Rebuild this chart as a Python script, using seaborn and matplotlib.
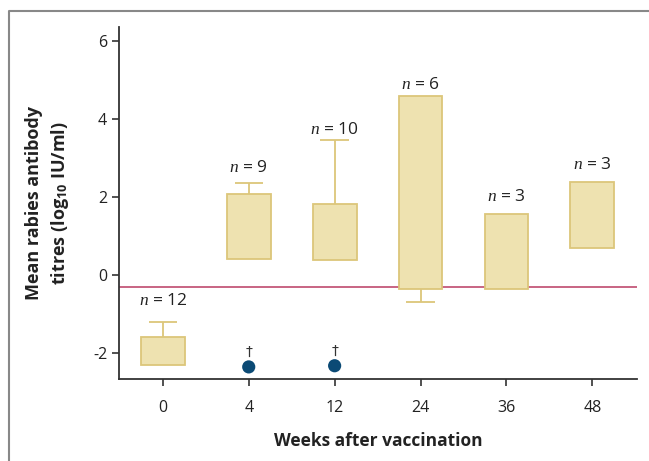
import numpy as np
import pandas as pd
import matplotlib.pyplot as plt
from matplotlib.lines import Line2D
import seaborn as sns

# data
weeks = ['0', '4', '12', '24', '36', '48']
bar_low = [-2.31, 0.41, 0.38, -0.36, -0.36, 0.69]
bar_high = [-1.59, 2.08, 1.82, 4.59, 1.56, 2.38]
whisk_end = [-1.21, 2.36, 3.46, -0.69, np.nan, np.nan]
n_labels = ['12', '9', '10', '6', '3', '3']
n_pos = [-0.67, 2.74, 3.72, 4.87, 2.0, 2.82]
dot_weeks = ['4', '12']
dot_vals = [-2.36, -2.33]
cutoff = -0.31

sns.set_style('ticks')
plt.rcParams['font.family'] = ['Open Sans', 'DejaVu Sans']
plt.rcParams['mathtext.fontset'] = 'custom'
plt.rcParams['mathtext.rm'] = 'Open Sans:bold'
plt.rcParams['mathtext.it'] = 'Liberation Serif:italic'
plt.rcParams['axes.unicode_minus'] = False

df = pd.DataFrame({'week': weeks, 'low': bar_low, 'high': bar_high})
df['span'] = df['high'] - df['low']

fig = plt.figure(figsize=(6.49, 4.61), dpi=100)
ax = fig.add_axes([0.1834, 0.1779, 0.7981, 0.7635])

sns.barplot(x='week', y='span', data=df, bottom=df['low'].values, width=0.51,
            color='#EEE2B0', saturation=1, edgecolor='#DCC67A', linewidth=1.3, ax=ax, zorder=2)

# one-sided whiskers
for i, w in enumerate(whisk_end):
    if np.isnan(w):
        continue
    start = bar_high[i] if w > bar_high[i] else bar_low[i]
    ax.vlines(i, start, w, color='#DCC67A', lw=1.3, zorder=1)
    ax.hlines(w, i - 0.165, i + 0.165, color='#DCC67A', lw=1.3, zorder=1)

ax.axhline(cutoff, color='#C4587A', lw=1.3, zorder=1)

xs = [weeks.index(w) for w in dot_weeks]
sns.scatterplot(x=xs, y=dot_vals, s=90, color='#0B4A75', edgecolor='none', ax=ax, zorder=3)
for x, v in zip(xs, dot_vals):
    ax.text(x, v + 0.2, '\u2020', ha='center', va='bottom', fontsize=10,
            family='DejaVu Sans', color='#333333')

for i, (lab, y) in enumerate(zip(n_labels, n_pos)):
    ax.text(i, y, '$n$ = ' + lab, ha='center', va='center', fontsize=12.5, color='#222222')

ax.set_xlim(-0.51, 5.52)
ax.set_ylim(-2.67, 6.36)
ax.set_yticks([-2, 0, 2, 4, 6])
sns.despine(ax=ax)
for s in ['left', 'bottom']:
    ax.spines[s].set_color('#333333')
    ax.spines[s].set_linewidth(1.3)
ax.tick_params(colors='#333333', labelsize=11.5, length=5, width=1.2, labelcolor='#222222')
ax.tick_params(axis='x', pad=10)

ax.set_xlabel('Weeks after vaccination', fontsize=12.5, fontweight='bold', color='#222222', labelpad=12)
ax.set_ylabel('Mean rabies antibody\ntitres (log$_{10}$ IU/ml)', fontsize=13,
              fontweight='bold', color='#222222', labelpad=16, linespacing=1.35)

# grey frame: only left and top edges
fx = 9 / 649
fy = 1 - 11 / 461
fig.add_artist(Line2D([fx, fx, 1.0], [0.0, fy, fy], transform=fig.transFigure,
                      color='#888888', lw=1.5))

fig.savefig('out.png', dpi=100)
